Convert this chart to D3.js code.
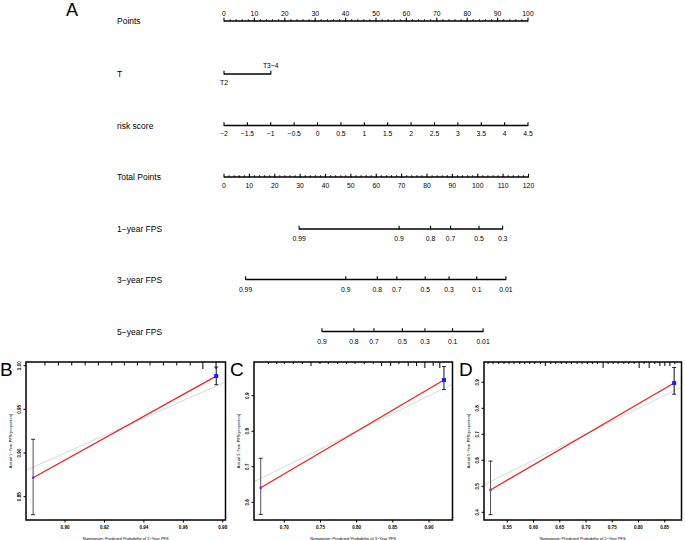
<!DOCTYPE html>
<html><head><meta charset="utf-8">
<script src="https://cdn.jsdelivr.net/npm/d3@7"></script>
<style>body{margin:0;background:#fff}svg{display:block}text{font-family:"Liberation Sans",Arial,Helvetica,sans-serif;fill:#000}</style>
</head><body><svg id="c" width="685" height="540"></svg>
<script>
// ---------------- DATA ----------------
const rowLabels = ["Points","T","risk score","Total Points","1\u2212year FPS","3\u2212year FPS","5\u2212year FPS"];
const pointsTicks = [0,10,20,30,40,50,60,70,80,90,100];
const tLevels = ["T2","T3\u22124"];
const tPoints = [0, 15.4];
const riskTicks = [-2,-1.5,-1,-0.5,0,0.5,1,1.5,2,2.5,3,3.5,4,4.5];
const riskLabels = ["\u22122","\u22121.5","\u22121","\u22120.5","0","0.5","1","1.5","2","2.5","3","3.5","4","4.5"];
const totalTicks = [0,10,20,30,40,50,60,70,80,90,100,110,120];
const fps1Labels = ["0.99","0.9","0.8","0.7","0.5","0.3"];
const fps1Points = [29.6,69.0,81.4,89.3,100.5,109.8];
const fps3Labels = ["0.99","0.9","0.8","0.7","0.5","0.3","0.1","0.01"];
const fps3Points = [8.5,48.0,60.4,68.1,79.3,88.7,99.6,111.1];
const fps5Labels = ["0.9","0.8","0.7","0.5","0.3","0.1","0.01"];
const fps5Points = [38.6,51.2,59.1,70.3,79.2,90.1,102.1];

// Calibration B (1-year)
const calB_pred = [0.8838, 0.9767];
const calB_obs  = [0.8717, 0.9881];
const calB_lo   = [0.8294, 0.9782];
const calB_hi   = [0.9157, 0.9984];
const calB_rugX = [0.8898,0.8966,0.9034,0.9102,0.9169,0.9237,0.9301,0.9367,0.9431,0.9499,0.9567,0.9635,0.9699,0.9766];
const calB_rugN = [1,1,1,1,1,1,1,1,1,1,1,1,2,2];
const calB_xTicks = [0.90,0.92,0.94,0.96,0.98];
const calB_xLabels = ["0.90","0.92","0.94","0.96","0.98"];
const calB_yTicks = [0.85,0.90,0.95,1.00];
const calB_yLabels = ["0.85","0.90","0.95","1.00"];

// Calibration C (3-year)
const calC_pred = [0.6674, 0.9207];
const calC_obs  = [0.641, 0.944];
const calC_lo   = [0.566, 0.917];
const calC_hi   = [0.724, 0.982];
const calC_rugX = [0.678,0.6895,0.700,0.7124,0.7249,0.7369,0.7493,0.7608,0.7738,0.7862,0.7977,0.8105,0.8229,0.8345,0.847,0.8584,0.8713,0.8829,0.8943,0.9058,0.915];
const calC_rugN = [1,1,1,1,1,2,1,1,1,1,1,1,1,2,2,1,2,2,3,2,3];
const calC_xTicks = [0.70,0.75,0.80,0.85,0.90];
const calC_xLabels = ["0.70","0.75","0.80","0.85","0.90"];
const calC_yTicks = [0.6,0.7,0.8,0.9];
const calC_yLabels = ["0.6","0.7","0.8","0.9"];

// Calibration D (5-year)
const calD_pred = [0.518, 0.868];
const calD_obs  = [0.486, 0.897];
const calD_lo   = [0.391, 0.854];
const calD_hi   = [0.597, 0.957];
const calD_rugX = [0.5132,0.5227,0.5336,0.5437,0.5532,0.5628,0.5737,0.5832,0.5927,0.6023,0.613,0.6225,0.6328,0.6423,0.653,0.6626,0.6721,0.683,0.6925,0.7026,0.7122,0.7217,0.7326,0.7421,0.7517,0.7612,0.7721,0.7816,0.7917,0.8013,0.8108,0.8204,0.8312,0.8408,0.8503,0.8599,0.8694];
const calD_rugN = [1,1,1,1,1,1,1,1,1,1,1,2,1,1,1,1,1,1,1,1,1,1,3,1,1,1,1,1,1,3,1,3,1,2,2,2,1];
const calD_xTicks = [0.55,0.60,0.65,0.70,0.75,0.80,0.85];
const calD_xLabels = ["0.55","0.60","0.65","0.70","0.75","0.80","0.85"];
const calD_yTicks = [0.4,0.5,0.6,0.7,0.8,0.9];
const calD_yLabels = ["0.4","0.5","0.6","0.7","0.8","0.9"];

// ---------------- DRAW ----------------
const svg = d3.select("#c");
const LBL = 8.5, TK = 6.8;

svg.append("text").attr("x",66).attr("y",15.5).attr("font-size",18).text("A");

const xPts = d3.scaleLinear().domain([0,100]).range([224,528]);
const xRisk = d3.scaleLinear().domain([-2,4.5]).range([224,528]);
const xTot = d3.scaleLinear().domain([0,120]).range([224,528.5]);

const rowY = [21,74,125.5,177,229,279.5,331.5];
rowLabels.forEach((l,i)=>{
  svg.append("text").attr("x",117).attr("y",rowY[i]+3).attr("font-size",LBL).text(l);
});

function scaleRow(y, xs, labels, opts){
  const g = svg.append("g");
  const lo = d3.min(xs), hi = d3.max(xs);
  g.append("line").attr("x1",lo).attr("x2",hi).attr("y1",y).attr("y2",y)
    .attr("stroke","#000").attr("stroke-width",1.7);
  (opts.minor||[]).forEach(x=>{
    g.append("line").attr("x1",x).attr("x2",x).attr("y1",y).attr("y2",y-1.8)
      .attr("stroke","#000").attr("stroke-width",0.9);
  });
  xs.forEach((x,i)=>{
    g.append("line").attr("x1",x).attr("x2",x).attr("y1",y+0.5).attr("y2",y-3.2)
      .attr("stroke","#000").attr("stroke-width",1.1);
    const pos = opts.pos ? opts.pos[i] : opts.dy;
    g.append("text").attr("x",x).attr("y",y+pos).attr("font-size",TK)
      .attr("text-anchor","middle").text(labels[i]);
  });
}
const minorPts = d3.range(0,101,2).filter(v=>v%10!==0).map(xPts);
const minorTot = d3.range(0,121,2).filter(v=>v%10!==0).map(xTot);

scaleRow(rowY[0], pointsTicks.map(xPts), pointsTicks.map(String), {dy:-5, minor:minorPts});
scaleRow(rowY[1], tPoints.map(xPts), tLevels, {pos:[10.5,-6.5]});
scaleRow(rowY[2], riskTicks.map(xRisk), riskLabels, {dy:10.5});
scaleRow(rowY[3], totalTicks.map(xTot), totalTicks.map(String), {dy:11});
scaleRow(rowY[4], fps1Points.map(xTot), fps1Labels, {dy:12});
scaleRow(rowY[5], fps3Points.map(xTot), fps3Labels, {dy:12.5});
scaleRow(rowY[6], fps5Points.map(xTot), fps5Labels, {dy:12.5});
// minor ticks of total points drawn after (same style)
minorTot.forEach(x=>{
  svg.append("line").attr("x1",x).attr("x2",x).attr("y1",rowY[3]).attr("y2",rowY[3]-1.8)
    .attr("stroke","#000").attr("stroke-width",0.9);
});

// calibration panels
function calPanel(c){
  const g = svg.append("g");
  const x = d3.scaleLinear().domain(c.xDom).range([c.x0,c.x1]);
  const y = d3.scaleLinear().domain(c.yDom).range([c.y1,c.y0]);
  const id = "clip"+c.letter;
  svg.append("clipPath").attr("id",id).append("rect")
    .attr("x",c.x0).attr("y",c.y0).attr("width",c.x1-c.x0).attr("height",c.y1-c.y0);
  const inner = g.append("g").attr("clip-path",`url(#${id})`);
  const d0 = Math.min(c.xDom[0],c.yDom[0]), d1 = Math.max(c.xDom[1],c.yDom[1]);
  inner.append("line").attr("x1",x(d0)).attr("y1",y(d0)).attr("x2",x(d1)).attr("y2",y(d1))
    .attr("stroke","#d8d8d8").attr("stroke-width",1);
  // rug spikes
  const h = d3.scaleLinear().domain([0,d3.max(c.rugN)]).range([0,c.rugMax]);
  c.rugX.forEach((v,i)=>{
    g.append("line").attr("x1",x(v)).attr("x2",x(v)).attr("y1",c.y0).attr("y2",c.y0+h(c.rugN[i]))
      .attr("stroke","#000").attr("stroke-width",1);
  });
  // error bars
  c.pred.forEach((p,i)=>{
    const col = i===0 ? "#555" : "#111";
    g.append("line").attr("x1",x(p)).attr("x2",x(p)).attr("y1",y(c.lo[i])).attr("y2",y(c.hi[i]))
      .attr("stroke",col).attr("stroke-width",1);
    [c.lo[i],c.hi[i]].forEach(v=>{
      g.append("line").attr("x1",x(p)-2).attr("x2",x(p)+2).attr("y1",y(v)).attr("y2",y(v))
        .attr("stroke","#111").attr("stroke-width",0.9);
    });
  });
  // calibration curve
  const line = d3.line().x((d,i)=>x(c.pred[i])).y((d,i)=>y(c.obs[i]));
  g.append("path").datum(c.pred).attr("d",line).attr("fill","none")
    .attr("stroke","#f02020").attr("stroke-width",1.3);
  c.pred.forEach((p,i)=>{
    const s = i===0 ? 2.4 : 4;
    g.append("rect").attr("x",x(p)-s/2).attr("y",y(c.obs[i])-s/2).attr("width",s).attr("height",s)
      .attr("fill", i===0 ? "#6a3cd6" : "#1a1aff");
  });
  // box
  g.append("rect").attr("x",c.x0).attr("y",c.y0).attr("width",c.x1-c.x0).attr("height",c.y1-c.y0)
    .attr("fill","none").attr("stroke","#000").attr("stroke-width",1.5);
  // x axis
  c.xTicks.forEach((v,i)=>{
    g.append("line").attr("x1",x(v)).attr("x2",x(v)).attr("y1",c.y1).attr("y2",c.y1+2.5)
      .attr("stroke","#000").attr("stroke-width",1);
    g.append("text").attr("x",x(v)).attr("y",c.y1+8.5).attr("font-size",4.6)
      .attr("font-weight","bold").attr("text-anchor","middle").text(c.xLabels[i]);
  });
  // y axis
  c.yTicks.forEach((v,i)=>{
    g.append("line").attr("x1",c.x0).attr("x2",c.x0-2.5).attr("y1",y(v)).attr("y2",y(v))
      .attr("stroke","#000").attr("stroke-width",1);
    g.append("text").attr("transform",`translate(${c.x0-5.5},${y(v)}) rotate(-90)`)
      .attr("font-size",4.6).attr("font-weight","bold").attr("text-anchor","middle").text(c.yLabels[i]);
  });
  g.append("text").attr("x",(c.x0+c.x1)/2).attr("y",c.y1+19.5).attr("font-size",4)
    .attr("text-anchor","middle").attr("fill","#222").text(c.xTitle);
  g.append("text").attr("transform",`translate(${c.x0-14},${(c.y0+c.y1)/2}) rotate(-90)`)
    .attr("font-size",4).attr("text-anchor","middle").text(c.yTitle);
  svg.append("text").attr("x",c.lx).attr("y",376).attr("font-size",19).text(c.letter);
}

calPanel({letter:"B", lx:0, x0:26, x1:225.5, y0:362, y1:520,
  xDom:[0.8802,0.9814], yDom:[0.8233,1.0042],
  pred:calB_pred, obs:calB_obs, lo:calB_lo, hi:calB_hi, rugX:calB_rugX, rugN:calB_rugN, rugMax:7,
  xTicks:calB_xTicks, xLabels:calB_xLabels, yTicks:calB_yTicks, yLabels:calB_yLabels,
  xTitle:"Nomogram\u2212Predicted Probability of 1\u2212Year PFS", yTitle:"Actual 1\u2212Year PFS(proportion)"});
calPanel({letter:"C", lx:230, x0:254, x1:452.5, y0:362, y1:520,
  xDom:[0.6581,0.9325], yDom:[0.5502,0.9948],
  pred:calC_pred, obs:calC_obs, lo:calC_lo, hi:calC_hi, rugX:calC_rugX, rugN:calC_rugN, rugMax:6,
  xTicks:calC_xTicks, xLabels:calC_xLabels, yTicks:calC_yTicks, yLabels:calC_yLabels,
  xTitle:"Nomogram\u2212Predicted Probability of 3\u2212Year PFS", yTitle:"Actual 3\u2212Year PFS(proportion)"});
calPanel({letter:"D", lx:459, x0:484, x1:681.5, y0:362, y1:520,
  xDom:[0.5056,0.882], yDom:[0.3704,0.978],
  pred:calD_pred, obs:calD_obs, lo:calD_lo, hi:calD_hi, rugX:calD_rugX, rugN:calD_rugN, rugMax:6,
  xTicks:calD_xTicks, xLabels:calD_xLabels, yTicks:calD_yTicks, yLabels:calD_yLabels,
  xTitle:"Nomogram\u2212Predicted Probability of 5\u2212Year PFS", yTitle:"Actual 5\u2212Year PFS(proportion)"});
</script></body></html>
